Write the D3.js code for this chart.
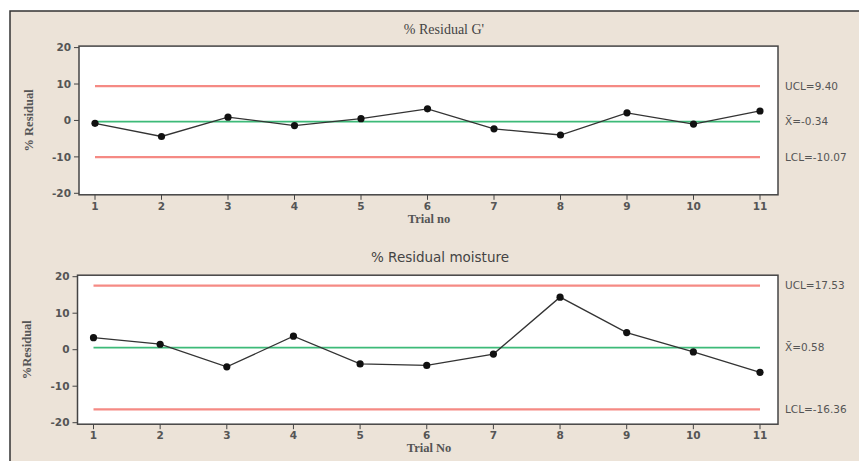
<!DOCTYPE html>
<html>
<head>
<meta charset="utf-8">
<script src="https://cdn.jsdelivr.net/npm/d3@7"></script>
<style>
  html, body { margin: 0; padding: 0; background: #fff; }
  svg { display: block; }
</style>
</head>
<body>
<svg id="chart" width="859" height="461"></svg>
<script>
var trials = [1, 2, 3, 4, 5, 6, 7, 8, 9, 10, 11];
var residualG = [-0.8, -4.4, 0.9, -1.4, 0.5, 3.2, -2.3, -4.0, 2.1, -1.0, 2.6];
var residualMoisture = [3.3, 1.5, -4.7, 3.7, -3.9, -4.3, -1.2, 14.4, 4.7, -0.6, -6.2];
var yTicks = [-20, -10, 0, 10, 20];
var limitsG = {ucl: 9.40, mean: -0.34, lcl: -10.07};
var limitsMoisture = {ucl: 17.53, mean: 0.58, lcl: -16.36};
var ucLabels = ['UCL=9.40', 'UCL=17.53'];
var meanLabels = ['X\u0304=-0.34', 'X\u0304=0.58'];
var lcLabels = ['LCL=-10.07', 'LCL=-16.36'];

var svg = d3.select('#chart');

// outer frame
svg.append('rect').attr('x', 10).attr('y', 11).attr('width', 860).attr('height', 460)
    .attr('fill', '#ece3d8').attr('stroke', '#333').attr('stroke-width', 1.5);

function drawPanel(cfg) {
    var g = svg.append('g');
    var x = d3.scaleLinear().domain([1, 11]).range([cfg.x1, cfg.x11]);
    var y = d3.scaleLinear().domain([-20, 20]).range([cfg.yBottom, cfg.yTop]);

    // plot area
    g.append('rect')
        .attr('x', cfg.left).attr('y', cfg.yTop - 1.5)
        .attr('width', cfg.right - cfg.left).attr('height', cfg.yBottom - cfg.yTop + 3)
        .attr('fill', '#fff').attr('stroke', '#444').attr('stroke-width', 1.5);

    // y ticks
    yTicks.forEach(function(d) {
        g.append('line').attr('x1', cfg.left - 5).attr('x2', cfg.left)
            .attr('y1', y(d)).attr('y2', y(d)).attr('stroke', '#444').attr('stroke-width', 1);
        g.append('text').attr('x', cfg.left - 8).attr('y', y(d)).attr('dy', '0.35em')
            .attr('text-anchor', 'end').attr('font-family', 'DejaVu Sans, sans-serif')
            .attr('font-size', 10.5).attr('font-weight', 'bold').attr('fill', '#555').text(d);
    });

    // x ticks
    var bottom = cfg.yBottom + 1.5;
    trials.forEach(function(d) {
        g.append('line').attr('x1', x(d)).attr('x2', x(d))
            .attr('y1', bottom).attr('y2', bottom + 5).attr('stroke', '#444').attr('stroke-width', 1);
        g.append('text').attr('x', x(d)).attr('y', bottom + 15)
            .attr('text-anchor', 'middle').attr('font-family', 'DejaVu Sans, sans-serif')
            .attr('font-size', 10.5).attr('font-weight', 'bold').attr('fill', '#555').text(d);
    });

    // control limits
    [['ucl', '#f58a84', 2.2], ['lcl', '#f58a84', 2.2], ['mean', '#3dba78', 1.8]].forEach(function(l) {
        g.append('line').attr('x1', x(1)).attr('x2', x(11))
            .attr('y1', y(cfg.limits[l[0]])).attr('y2', y(cfg.limits[l[0]]))
            .attr('stroke', l[1]).attr('stroke-width', l[2]);
    });

    var rl = [[cfg.limits.ucl, cfg.labels[0]], [cfg.limits.mean, cfg.labels[1]], [cfg.limits.lcl, cfg.labels[2]]];
    rl.forEach(function(d) {
        g.append('text').attr('x', 785).attr('y', y(d[0])).attr('dy', '0.35em')
            .attr('font-family', 'DejaVu Sans, sans-serif').attr('font-size', 10.5)
            .attr('fill', '#555').text(d[1]);
    });

    // series line and points
    var pts = trials.map(function(t, i) { return [t, cfg.values[i]]; });
    var line = d3.line().x(function(d) { return x(d[0]); }).y(function(d) { return y(d[1]); });
    g.append('path').attr('d', line(pts)).attr('fill', 'none')
        .attr('stroke', '#333').attr('stroke-width', 1.3);
    g.selectAll('circle').data(pts).enter().append('circle')
        .attr('cx', function(d) { return x(d[0]); })
        .attr('cy', function(d) { return y(d[1]); })
        .attr('r', 3.6).attr('fill', '#111');

    // titles
    g.append('text').attr('x', cfg.titleX).attr('y', cfg.titleY).attr('text-anchor', 'middle')
        .attr('font-family', cfg.titleFont).attr('font-size', cfg.titleSize)
        .attr('fill', '#444').text(cfg.title);
    g.append('text').attr('x', 429).attr('y', bottom + 28).attr('text-anchor', 'middle')
        .attr('font-family', 'Liberation Serif, serif').attr('font-size', 12.5).attr('font-weight', 'bold')
        .attr('fill', '#555').text(cfg.xLabel);
    g.append('text')
        .attr('transform', 'translate(' + cfg.yLabelX + ',' + y(0) + ') rotate(-90)')
        .attr('text-anchor', 'middle').attr('font-family', 'Liberation Serif, serif')
        .attr('font-size', 12.5).attr('font-weight', 'bold').attr('fill', '#555').text(cfg.yLabel);
}

drawPanel({
    left: 79, right: 778, x1: 95, x11: 760, yTop: 47.6, yBottom: 193.3,
    values: residualG, limits: limitsG,
    labels: [ucLabels[0], meanLabels[0], lcLabels[0]],
    title: "% Residual G'", titleX: 444, titleY: 34, titleFont: 'Liberation Serif, serif', titleSize: 14,
    xLabel: 'Trial no', yLabel: '% Residual', yLabelX: 33
});

drawPanel({
    left: 77.5, right: 778, x1: 93.5, x11: 760, yTop: 276.7, yBottom: 422.7,
    values: residualMoisture, limits: limitsMoisture,
    labels: [ucLabels[1], meanLabels[1], lcLabels[1]],
    title: '% Residual moisture', titleX: 440, titleY: 262, titleFont: 'DejaVu Sans, sans-serif', titleSize: 13.5,
    xLabel: 'Trial No', yLabel: '%Residual', yLabelX: 31
});
</script>
</body>
</html>
